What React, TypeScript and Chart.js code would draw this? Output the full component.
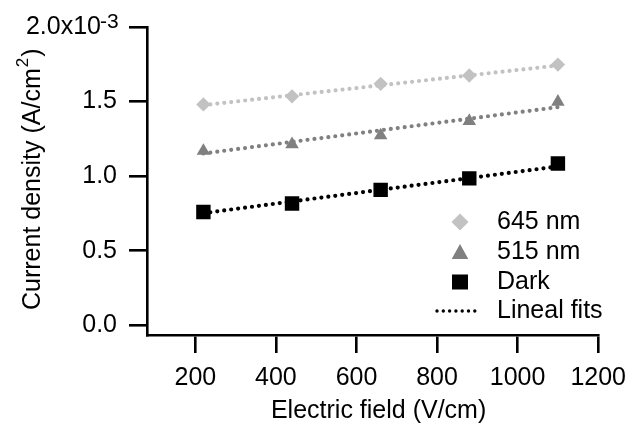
import React, { useEffect, useRef } from 'react';
import { Chart, registerables } from 'chart.js';

Chart.register(...registerables);

// ---- data ----
const fieldValues = [220, 440, 660, 880, 1100];
const nm645 = [1.481, 1.535, 1.619, 1.675, 1.748];
const nm515 = [1.169, 1.213, 1.273, 1.369, 1.498];
const dark = [0.76, 0.817, 0.908, 0.985, 1.085];
const fitX = [220, 1100];
const fit645 = [1.476, 1.742];
const fit515 = [1.152, 1.463];
const fitDark = [0.752, 1.065];
const seriesLabels = ['645 nm', '515 nm', 'Dark', 'Lineal fits'];
const xTitle = 'Electric field (V/cm)';
const yTitleMain = 'Current density (A/cm';
const yTitleSup = '2';
const topTickMain = '2.0x10';
const topTickSup = '-3';

const LIGHT = '#c2c2c2';
const MID = '#808080';
const BLACK = '#000000';
const FONT = '"Liberation Sans", Arial, Helvetica, sans-serif';

const pts = (xs: number[], ys: number[]) => xs.map((x, i) => ({ x, y: ys[i] }));

const decorPlugin = {
  id: 'decor',
  afterDraw(chart: any) {
    const ctx: CanvasRenderingContext2D = chart.ctx;
    const yScale = chart.scales.y;
    const area = chart.chartArea;
    ctx.save();
    ctx.fillStyle = BLACK;

    // top tick label with exponent
    const yTop = yScale.getPixelForValue(2);
    ctx.font = `25px ${FONT}`;
    ctx.textAlign = 'right';
    ctx.textBaseline = 'middle';
    ctx.fillText(topTickMain, 101, yTop);
    ctx.font = `21px ${FONT}`;
    ctx.textAlign = 'left';
    ctx.textBaseline = 'alphabetic';
    ctx.fillText(topTickSup, 100, yTop + 1);

    // x title
    ctx.font = `25px ${FONT}`;
    ctx.textAlign = 'center';
    ctx.textBaseline = 'middle';
    ctx.fillText(xTitle, (area.left + area.right) / 2 + 6, 411);

    // y title (rotated) with superscript
    ctx.save();
    ctx.translate(33, 310);
    ctx.rotate(-Math.PI / 2);
    ctx.textAlign = 'left';
    ctx.textBaseline = 'middle';
    ctx.font = `25px ${FONT}`;
    ctx.fillText(yTitleMain, 0, 0);
    let w = ctx.measureText(yTitleMain).width;
    ctx.font = `17px ${FONT}`;
    ctx.fillText(yTitleSup, w + 1, -10);
    w += ctx.measureText(yTitleSup).width + 2;
    ctx.font = `25px ${FONT}`;
    ctx.fillText(')', w, 0);
    ctx.restore();

    // legend
    const lx = 460;
    const tx = 497;
    const rows = [222, 252, 282, 311];
    ctx.fillStyle = LIGHT;
    ctx.beginPath();
    ctx.moveTo(lx - 8.5, rows[0]);
    ctx.lineTo(lx, rows[0] - 8.5);
    ctx.lineTo(lx + 8.5, rows[0]);
    ctx.lineTo(lx, rows[0] + 8.5);
    ctx.closePath();
    ctx.fill();
    ctx.fillStyle = MID;
    ctx.beginPath();
    ctx.moveTo(lx, rows[1] - 8);
    ctx.lineTo(lx + 8.3, rows[1] + 7);
    ctx.lineTo(lx - 8.3, rows[1] + 7);
    ctx.closePath();
    ctx.fill();
    ctx.fillStyle = BLACK;
    ctx.fillRect(lx - 8, rows[2] - 7.5, 16, 15);
    ctx.strokeStyle = BLACK;
    ctx.lineWidth = 3.4;
    ctx.lineCap = 'round';
    ctx.setLineDash([0, 6.3]);
    ctx.beginPath();
    ctx.moveTo(437, rows[3]);
    ctx.lineTo(480, rows[3]);
    ctx.stroke();
    ctx.setLineDash([]);
    ctx.fillStyle = BLACK;
    ctx.font = `25px ${FONT}`;
    ctx.textAlign = 'left';
    ctx.textBaseline = 'middle';
    seriesLabels.forEach((t, i) => ctx.fillText(t, tx, rows[i]));
    ctx.restore();
  },
};

export default function App() {
  const ref = useRef<HTMLCanvasElement | null>(null);
  useEffect(() => {
    document.body.style.margin = '0';
    const canvas = ref.current;
    if (!canvas) return;
    const fitStyle = (color: string) => ({
      showLine: true,
      pointRadius: 0,
      pointHoverRadius: 0,
      borderColor: color,
      borderWidth: 4.2,
      borderDash: [0, 7],
      borderCapStyle: 'round' as const,
      fill: false,
    });
    const chart = new Chart(canvas, {
      type: 'scatter',
      data: {
        datasets: [
          {
            label: seriesLabels[0],
            data: pts(fieldValues, nm645),
            pointStyle: 'rectRot',
            pointRadius: 7.2,
            pointBackgroundColor: LIGHT,
            pointBorderWidth: 0,
            showLine: false,
          },
          {
            label: seriesLabels[1],
            data: pts(fieldValues, nm515),
            pointStyle: 'triangle',
            pointRadius: 7.8,
            pointBackgroundColor: MID,
            pointBorderWidth: 0,
            showLine: false,
          },
          {
            label: seriesLabels[2],
            data: pts(fieldValues, dark),
            pointStyle: 'rect',
            pointRadius: 10.2,
            pointBackgroundColor: BLACK,
            pointBorderWidth: 0,
            showLine: false,
          },
          { label: 'fit645', data: pts(fitX, fit645), ...fitStyle(LIGHT) },
          { label: 'fit515', data: pts(fitX, fit515), ...fitStyle(MID) },
          { label: 'fitDark', data: pts(fitX, fitDark), ...fitStyle(BLACK) },
        ],
      },
      options: {
        responsive: false,
        animation: false,
        events: [],
        layout: { padding: { left: 0, right: 30, top: 24, bottom: 0 } },
        plugins: { legend: { display: false }, tooltip: { enabled: false }, title: { display: false } },
        scales: {
          x: {
            type: 'linear',
            min: 80,
            max: 1200,
            afterFit: (s: any) => { s.height = 94; },
            ticks: {
              stepSize: 200,
              includeBounds: false,
              autoSkip: false,
              maxRotation: 0,
              padding: 10,
              color: BLACK,
              font: { family: FONT, size: 25 },
              callback: (v: any) => String(v),
            },
            grid: { drawOnChartArea: false, drawTicks: true, tickLength: 18, color: BLACK, lineWidth: 2.6 },
            border: { display: true, color: BLACK, width: 2.6 },
          },
          y: {
            type: 'linear',
            min: -0.065,
            max: 2.0,
            afterFit: (s: any) => { s.width = 147; },
            ticks: {
              stepSize: 0.5,
              includeBounds: false,
              padding: 12,
              color: BLACK,
              font: { family: FONT, size: 25 },
              callback: (v: any) => (Math.abs(v - 2) < 1e-9 ? '' : Number(v).toFixed(1)),
            },
            grid: { drawOnChartArea: false, drawTicks: true, tickLength: 18, color: BLACK, lineWidth: 2.6 },
            border: { display: true, color: BLACK, width: 2.6 },
          },
        },
      },
      plugins: [decorPlugin],
    } as any);
    return () => chart.destroy();
  }, []);
  return <canvas ref={ref} width={636} height={429} style={{ display: 'block' }} />;
}
